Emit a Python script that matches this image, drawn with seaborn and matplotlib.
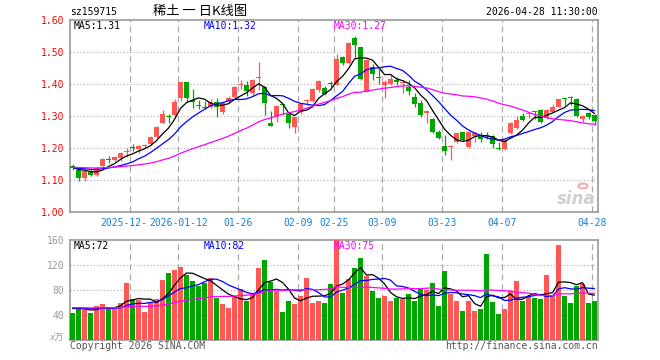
import numpy as np
import pandas as pd
import matplotlib
matplotlib.use("Agg")
import matplotlib.pyplot as plt
from matplotlib.patches import Circle
import seaborn as sns

# ---------------- data ----------------
opens = [1.143, 1.131, 1.105, 1.124, 1.117, 1.145, 1.164, 1.163, 1.169, 1.187,
         1.202, 1.198, 1.207, 1.212, 1.233, 1.279, 1.300, 1.303, 1.355, 1.406,
         1.350, 1.334, 1.328, 1.329, 1.343, 1.314, 1.346, 1.360, 1.397, 1.397,
         1.373, 1.420, 1.392, 1.279, 1.297, 1.336, 1.306, 1.265, 1.313, 1.347,
         1.347, 1.380, 1.389, 1.401, 1.397, 1.483, 1.465, 1.544, 1.515, 1.376,
         1.452, 1.422, 1.398, 1.401, 1.413, 1.403, 1.391, 1.359, 1.342, 1.309,
         1.291, 1.251, 1.207, 1.204, 1.220, 1.249, 1.202, 1.238, 1.242, 1.240,
         1.238, 1.200, 1.196, 1.247, 1.262, 1.300, 1.307, 1.314, 1.319, 1.293,
         1.314, 1.329, 1.354, 1.358, 1.353, 1.291, 1.309, 1.303]
closes = [1.139, 1.105, 1.129, 1.117, 1.137, 1.166, 1.162, 1.173, 1.185, 1.189,
          1.199, 1.206, 1.209, 1.234, 1.267, 1.305, 1.296, 1.345, 1.406, 1.357,
          1.344, 1.331, 1.325, 1.345, 1.327, 1.340, 1.355, 1.392, 1.399, 1.377,
          1.413, 1.422, 1.340, 1.270, 1.331, 1.333, 1.277, 1.296, 1.337, 1.349,
          1.384, 1.409, 1.369, 1.399, 1.477, 1.465, 1.529, 1.522, 1.415, 1.474,
          1.432, 1.420, 1.406, 1.417, 1.405, 1.405, 1.377, 1.339, 1.303, 1.317,
          1.251, 1.232, 1.192, 1.207, 1.246, 1.226, 1.251, 1.247, 1.227, 1.238,
          1.212, 1.198, 1.225, 1.279, 1.288, 1.289, 1.309, 1.312, 1.281, 1.319,
          1.327, 1.352, 1.352, 1.356, 1.300, 1.300, 1.298, 1.285]
highs = [1.150, 1.132, 1.131, 1.134, 1.141, 1.168, 1.175, 1.175, 1.188, 1.199,
         1.214, 1.209, 1.213, 1.238, 1.269, 1.319, 1.305, 1.353, 1.407, 1.407,
         1.384, 1.350, 1.348, 1.353, 1.355, 1.345, 1.362, 1.394, 1.414, 1.408,
         1.415, 1.470, 1.393, 1.317, 1.333, 1.338, 1.311, 1.298, 1.341, 1.352,
         1.386, 1.413, 1.394, 1.409, 1.495, 1.487, 1.532, 1.550, 1.517, 1.478,
         1.464, 1.446, 1.412, 1.428, 1.423, 1.412, 1.413, 1.372, 1.350, 1.318,
         1.294, 1.256, 1.241, 1.210, 1.248, 1.251, 1.253, 1.250, 1.250, 1.249,
         1.241, 1.218, 1.227, 1.281, 1.300, 1.310, 1.313, 1.317, 1.322, 1.321,
         1.338, 1.354, 1.357, 1.361, 1.356, 1.302, 1.311, 1.306]
lows = [1.132, 1.096, 1.098, 1.113, 1.114, 1.142, 1.152, 1.160, 1.160, 1.173,
        1.191, 1.183, 1.200, 1.209, 1.230, 1.277, 1.277, 1.301, 1.347, 1.343,
        1.324, 1.322, 1.322, 1.324, 1.298, 1.306, 1.340, 1.357, 1.383, 1.363,
        1.363, 1.381, 1.303, 1.268, 1.282, 1.306, 1.262, 1.248, 1.305, 1.335,
        1.345, 1.375, 1.366, 1.390, 1.396, 1.459, 1.462, 1.480, 1.412, 1.374,
        1.413, 1.400, 1.357, 1.398, 1.397, 1.373, 1.365, 1.328, 1.298, 1.279,
        1.247, 1.228, 1.178, 1.163, 1.215, 1.221, 1.200, 1.220, 1.220, 1.228,
        1.199, 1.193, 1.194, 1.243, 1.259, 1.285, 1.295, 1.291, 1.278, 1.290,
        1.312, 1.327, 1.334, 1.334, 1.298, 1.280, 1.292, 1.272]
volumes = [44, 52, 48, 44, 55, 58, 51, 50, 60, 92,
           66, 64, 45, 60, 65, 96, 107, 112, 117, 104,
           94, 86, 91, 99, 68, 57, 52, 71, 81, 62,
           73, 115, 128, 93, 79, 45, 62, 57, 71, 100,
           60, 63, 60, 89, 160, 75, 97, 115, 131, 102,
           78, 68, 70, 62, 68, 65, 73, 63, 82, 80,
           92, 54, 110, 73, 63, 46, 63, 47, 50, 138,
           61, 41, 50, 78, 94, 63, 69, 68, 66, 104,
           72, 152, 71, 60, 87, 89, 60, 63]

tick_idx = [10, 18, 28, 38, 44, 52, 62, 72, 87]
# visible text of each date label (the first one is partly covered by the next)
tick_labels = ["2025-12-", "2026-01-12", "01-26", "02-09", "02-25",
               "03-09", "03-23", "04-07", "04-28"]
price_ticks = [1.00, 1.10, 1.20, 1.30, 1.40, 1.50, 1.60]
vol_ticks = [40, 80, 120, 160]

# moving-average start levels (history before the window)
price_start_level = 1.14
volume_start_level = 52

symbol = "sz159715"
title = "稀土 一 日K线图"
stamp = "2026-04-28 11:30:00"

# ---------------- derived ----------------
n = len(closes)
idx = np.arange(n)
df = pd.DataFrame({"idx": idx, "open": opens, "close": closes,
                   "high": highs, "low": lows, "vol": volumes})
df["dir"] = np.where(df["close"] >= df["open"], "up", "down")


def ma(values, w, start):
    s = pd.Series([start] * 29 + list(values), dtype=float)
    return s.rolling(w).mean().iloc[29:].to_numpy()


for w in (5, 10, 30):
    df[f"ma{w}"] = ma(closes, w, price_start_level)
    df[f"vma{w}"] = ma(volumes, w, volume_start_level)

RED = "#ff5656"
GREEN = "#00a600"
MA_COLORS = {5: "#000000", 10: "#0000ff", 30: "#ff00ff"}

sns.set_style("white")
plt.rcParams["font.family"] = ["DejaVu Sans Mono", "Noto Sans CJK SC"]

W, H = 660, 360
fig = plt.figure(figsize=(6.6, 3.6), dpi=100)


def fx(x):
    return x / W


def fy(y):
    return 1 - y / H


L, R = 70, 598
ax = fig.add_axes([fx(L), fy(212), (R - L) / W, 192 / H])
axv = fig.add_axes([fx(L), fy(340), (R - L) / W, 100 / H])

XL = (-0.42, n - 0.42)
grid_x = [i - 0.35 for i in tick_idx]

# ---------- price panel ----------
cols = np.where(df["dir"] == "up", RED, GREEN)
ax.vlines(df["idx"], df["low"], df["high"], colors=cols, linewidth=0.9, zorder=3)
body_lo = np.minimum(df["open"], df["close"])
body_h = np.maximum(np.abs(df["close"] - df["open"]), 0.0032)
ax.bar(df["idx"], body_h, bottom=body_lo, width=0.83, color=cols,
       linewidth=0, zorder=4)
for w in (5, 10, 30):
    sns.lineplot(x=df["idx"], y=df[f"ma{w}"], ax=ax, color=MA_COLORS[w],
                 linewidth=0.9, legend=False, zorder=5)
ax.set_xlim(*XL)
ax.set_ylim(1.0, 1.6)
ax.set_yticks(price_ticks)
ax.set_yticklabels([f"{t:.2f}" for t in price_ticks], color="#ff0000",
                   fontsize=7)
ax.set_xticks([])
ax.set_xlabel("")
ax.set_ylabel("")
ax.tick_params(axis="y", length=0, pad=4)
for t in price_ticks[1:-1]:
    ax.axhline(t, color="#aaaaaa", linewidth=0.8, linestyle=(0, (1, 2)), zorder=1)
for gx in grid_x:
    ax.axvline(gx, color="#aaaaaa", linewidth=0.9, linestyle=(0, (5, 3)), zorder=1)

# ---------- volume panel ----------
sns.barplot(data=df, x="idx", y="vol", hue="dir",
            palette={"up": RED, "down": GREEN}, native_scale=True,
            width=0.83, dodge=False, legend=False, errorbar=None,
            saturation=1, ax=axv, linewidth=0, zorder=3)
for w in (5, 10, 30):
    sns.lineplot(x=df["idx"], y=df[f"vma{w}"], ax=axv, color=MA_COLORS[w],
                 linewidth=0.9, legend=False, zorder=5)
axv.set_xlim(*XL)
axv.set_ylim(0, 160)
axv.set_yticks(vol_ticks)
axv.set_yticklabels([str(t) for t in vol_ticks], color="#999999", fontsize=7)
axv.set_xticks([])
axv.set_xlabel("")
axv.set_ylabel("")
axv.tick_params(axis="y", length=0, pad=4)
for t in vol_ticks[:-1]:
    axv.axhline(t, color="#aaaaaa", linewidth=0.8, linestyle=(0, (1, 2)), zorder=1)
for gx in grid_x:
    axv.axvline(gx, color="#aaaaaa", linewidth=0.9, linestyle=(0, (5, 3)), zorder=1)

for a in (ax, axv):
    for s in a.spines.values():
        s.set_color("#999999")
        s.set_linewidth(1.2)
    a.set_facecolor("white")

# ---------- date labels under price panel ----------
xt = ax.get_xaxis_transform()
for k, (gx, lab) in enumerate(zip(grid_x, tick_labels)):
    if k == 0:
        # left part of a label that is overlapped by the next one
        ax.text(gx - 4.95, -0.03, lab, transform=xt, ha="left", va="top",
                fontsize=7, color="#1580d8")
    else:
        ax.text(gx, -0.03, lab, transform=xt, ha="center", va="top",
                fontsize=7, color="#1580d8")

# ---------- MA captions ----------
last = df.iloc[-1]
fs = 7
for a, keys, fmt, top in ((ax, ("ma5", "ma10", "ma30"), "{:.2f}", 26),
                          (axv, ("vma5", "vma10", "vma30"), "{:.0f}", 246)):
    for (k, w), xpx in zip(zip(keys, (5, 10, 30)), (74, 204, 334)):
        fig.text(fx(xpx), fy(top), f"MA{w}:" + fmt.format(last[k]),
                 color=MA_COLORS[w], fontsize=fs, va="center", ha="left",
                 zorder=10)

# ---------- header / footer ----------
fig.text(fx(70), fy(12), symbol, fontsize=7, color="black", va="center")
fig.text(fx(200), fy(12), title, fontsize=9.5, color="black", va="center",
         ha="center", family=["Noto Sans CJK SC", "DejaVu Sans"])
fig.text(fx(598), fy(12), stamp, fontsize=7, color="black", va="center",
         ha="right")
fig.text(fx(70), fy(346), "Copyright 2026 SINA.COM", fontsize=7,
         color="#555555", va="center")
fig.text(fx(598), fy(346), "http://finance.sina.com.cn", fontsize=7,
         color="#555555", va="center", ha="right")
fig.text(fx(64), fy(338), "x万", fontsize=6.5, color="#999999", va="center",
         ha="right", style="italic")
fig.text(fx(596), fy(199), "sina", fontsize=12, color="#cfcfcf", va="center",
         ha="right", style="italic", weight="bold", family="DejaVu Sans")
eye = Circle((fx(583), fy(186)), radius=4.5 / W, transform=fig.transFigure,
             facecolor="none", edgecolor="#f2b0b0", linewidth=1.6)
fig.add_artist(eye)

fig.savefig("out.png", dpi=100)
